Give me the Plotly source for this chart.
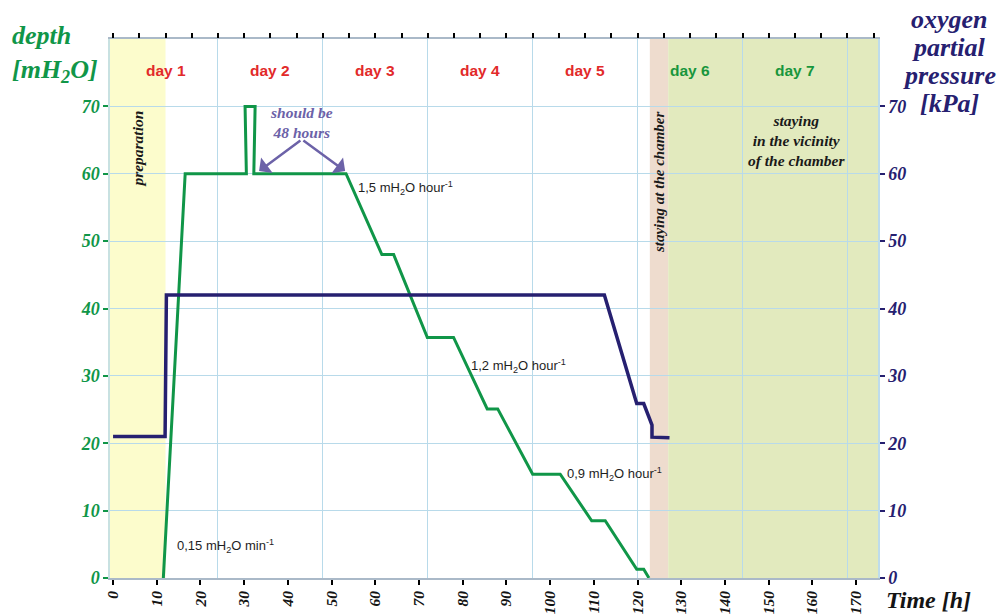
import plotly.graph_objects as go

# ---------------- data ----------------
depth_hours = [11.5, 16.5, 30.5, 30.2, 32.5, 32.2, 53.3, 61.5, 64.2, 71.9, 77.9,
               85.6, 88.0, 96.0, 102.3, 109.5, 112.6, 119.8, 121.4, 122.6]
depth_m = [0, 60, 60, 70, 70, 60, 60, 48, 48, 35.7, 35.7,
           25.1, 25.1, 15.4, 15.4, 8.5, 8.5, 1.3, 1.3, 0]

o2_hours = [0, 11.9, 12.2, 112.4, 119.8, 121.4, 123.3, 123.3, 127.3]
o2_kpa = [21, 21, 42, 42, 25.9, 25.9, 22.7, 20.9, 20.8]

day_labels = ["day 1", "day 2", "day 3", "day 4", "day 5", "day 6", "day 7"]
day_centres = [12, 36, 60, 84, 108, 132, 156]
day_bounds = [24, 48, 72, 96, 120, 144, 168]

x_ticks = list(range(0, 171, 10))
y_ticks = list(range(0, 71, 10))
top_ticks = list(range(0, 175, 6))

X_MIN, X_MAX = -0.7, 175
Y_MIN, Y_MAX = 0, 80

phase_start = [X_MIN, 122.8, 127.0]
phase_end = [12.0, 127.0, X_MAX]

o2_title_lines = ["oxygen", "partial", "pressure", "[kPa]"]

# ---------------- styles ----------------
GREEN = "rgb(16,150,72)"
NAVY = "rgb(38,32,112)"
RED = "rgb(226,42,42)"
DAYGREEN = "rgb(24,150,60)"
PURPLE = "rgb(108,98,168)"
GRID = "rgb(184,218,234)"
phase_colours = ["rgb(252,252,204)", "rgb(238,220,206)", "rgb(226,234,190)"]
day_colours = [RED] * 5 + [DAYGREEN] * 2
SERIF = "Liberation Serif"

fig = go.Figure()

fig.add_trace(go.Scatter(x=depth_hours, y=depth_m, mode="lines",
                         line=dict(color=GREEN, width=3), name="depth",
                         hoverinfo="x+y"))
fig.add_trace(go.Scatter(x=o2_hours, y=o2_kpa, mode="lines", yaxis="y2",
                         line=dict(color=NAVY, width=3.5), name="pO2",
                         hoverinfo="x+y"))
# carrier trace for the top tick axis
fig.add_trace(go.Scatter(x=[0], y=[None], xaxis="x2", mode="lines",
                         showlegend=False, hoverinfo="skip"))

for x0, x1, col in zip(phase_start, phase_end, phase_colours):
    fig.add_shape(type="rect", xref="x", yref="y", x0=x0, x1=x1, y0=Y_MIN, y1=Y_MAX,
                  fillcolor=col, line_width=0, layer="below")

# annotations
for lab, xc, col in zip(day_labels, day_centres, day_colours):
    fig.add_annotation(x=xc, y=75.3, xref="x", yref="y", text=lab, showarrow=False,
                       font=dict(family="Liberation Sans", size=15.5, color=col, weight="bold"))

def serif_text(x, y, text, size=15, color="rgb(25,25,25)", angle=0, **kw):
    fig.add_annotation(x=x, y=y, xref="x", yref="y", text=text, showarrow=False,
                       textangle=angle,
                       font=dict(family=SERIF, size=size, color=color,
                                 weight="bold", style="italic"), **kw)

serif_text(5.5, 63.6, "preparation", size=15.5, angle=-90)
serif_text(124.8, 58.7, "staying at the chamber", size=15, angle=-90)
serif_text(156.3, 65.0, "staying<br>in the vicinity<br>of the chamber", size=15.5)
serif_text(43.0, 67.6, "should be<br>48 hours", size=15.5, color=PURPLE)

# arrows of the "should be 48 hours" note
for tip in (33.4, 53.1):
    fig.add_annotation(x=tip, y=60.4, ax=43.2, ay=65.1, xref="x", yref="y",
                       axref="x", ayref="y", text="", showarrow=True,
                       arrowhead=1, arrowsize=1.3, arrowwidth=2.5, arrowcolor=PURPLE)

def rate_text(x, y, text):
    fig.add_annotation(x=x, y=y, xref="x", yref="y", text=text, showarrow=False,
                       xanchor="left",
                       font=dict(family="Liberation Sans", size=13, color="rgb(30,30,30)"))

rate_text(55.5, 57.9, "1,5 mH<sub>2</sub>O hour<sup>-1</sup>")
rate_text(81.5, 31.5, "1,2 mH<sub>2</sub>O hour<sup>-1</sup>")
rate_text(103.3, 15.5, "0,9 mH<sub>2</sub>O hour<sup>-1</sup>")
rate_text(14.2, 4.8, "0,15 mH<sub>2</sub>O min<sup>-1</sup>")

# axis titles (given in pixels, converted to paper units below)
fig.add_annotation(x=10, y=19, xref="paper", yref="paper", xanchor="left", yanchor="top",
                   text="depth<br>[mH<sub>2</sub>O]", showarrow=False, align="left",
                   font=dict(family=SERIF, size=26, color=GREEN, weight="bold", style="italic"))
for i, line in enumerate(o2_title_lines):
    fig.add_annotation(x=949, y=20 + 27.7 * i, xref="paper", yref="paper",
                       xanchor="center", yanchor="middle",
                       text=line, showarrow=False,
                       font=dict(family=SERIF, size=26, color=NAVY, weight="bold", style="italic"))
fig.add_annotation(x=928, y=600, xref="paper", yref="paper", xanchor="center", yanchor="middle",
                   text="Time [h]", showarrow=False,
                   font=dict(family=SERIF, size=24, color="rgb(20,20,20)", weight="bold", style="italic"))

W, H = 1001, 615
ML, MR, MT, MB = 110, 123, 39, 37
for a in fig.layout.annotations:
    if a.xref == "paper":
        a.x = (a.x - ML) / (W - ML - MR)
        a.y = 1 - (a.y - MT) / (H - MT - MB)

tickfont = dict(family=SERIF, size=18, weight="bold", style="italic")

fig.update_layout(
    width=W, height=H,
    margin=dict(l=ML, r=MR, t=MT, b=MB, autoexpand=False),
    paper_bgcolor="white", plot_bgcolor="white",
    showlegend=False,
    xaxis=dict(range=[X_MIN, X_MAX], tickvals=x_ticks, tickangle=-90,
               ticks="outside", ticklen=5, tickwidth=2, tickcolor="black",
               tickfont=dict(tickfont, color="rgb(20,20,20)", size=15.5),
               showgrid=False, zeroline=False,
               showline=True, linecolor="rgb(170,185,200)", linewidth=1.5, mirror=True,
               minor=dict(tickvals=day_bounds, showgrid=True, gridcolor=GRID,
                          gridwidth=1, ticks=""),
               automargin=False),
    xaxis2=dict(range=[X_MIN, X_MAX], overlaying="x", side="top", tickvals=top_ticks,
                ticks="outside", ticklen=5, tickwidth=2, tickcolor="black",
                showticklabels=False, showgrid=False, zeroline=False, showline=False,
                automargin=False),
    yaxis=dict(range=[Y_MIN, Y_MAX], tickvals=y_ticks, ticks="outside", ticklen=5,
               tickwidth=2, tickcolor=GREEN, tickfont=dict(tickfont, color=GREEN),
               showgrid=True, gridcolor=GRID, gridwidth=1, zeroline=False,
               showline=True, linecolor="rgb(200,225,225)", linewidth=1.5,
               automargin=False),
    yaxis2=dict(range=[Y_MIN, Y_MAX], tickvals=y_ticks, overlaying="y", side="right",
                ticks="outside", ticklen=5, tickwidth=2, tickcolor=NAVY,
                tickfont=dict(tickfont, color=NAVY), showgrid=False, zeroline=False,
                showline=True, linecolor="rgb(190,220,235)", linewidth=1.5,
                automargin=False),
)

fig.write_html("out.html", config={"displayModeBar": False},
               post_script="document.body.style.margin='0';document.body.style.overflow='hidden';")
